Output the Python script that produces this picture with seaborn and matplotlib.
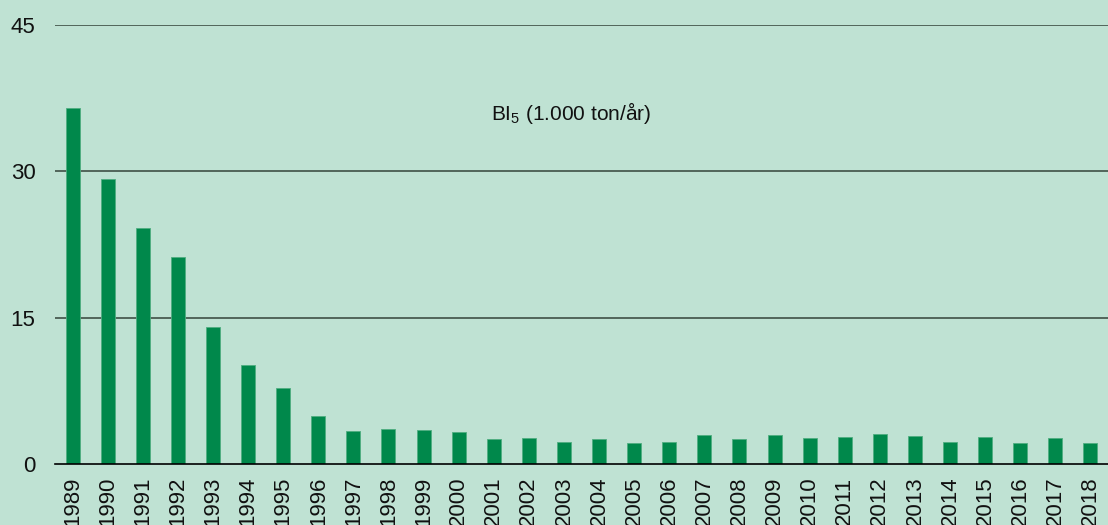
import numpy as np
import pandas as pd
import matplotlib
matplotlib.use('Agg')
import matplotlib.pyplot as plt
import seaborn as sns

# Data
years = [str(y) for y in range(1989, 2019)]
bi5 = [36.5, 29.2, 24.2, 21.2, 14.0, 10.1, 7.8, 4.95, 3.4, 3.55,
       3.5, 3.3, 2.55, 2.65, 2.3, 2.55, 2.2, 2.3, 2.95, 2.55,
       2.95, 2.65, 2.75, 3.05, 2.9, 2.3, 2.75, 2.15, 2.65, 2.2]
yticks = [0, 15, 30, 45]

bg = '#bfe2d3'
bar_color = '#00884b'

sns.set_style('white')
plt.rcParams['font.family'] = ['Liberation Sans', 'DejaVu Sans']
plt.rcParams['mathtext.fontset'] = 'custom'
plt.rcParams['mathtext.rm'] = 'Liberation Sans'
plt.rcParams['mathtext.it'] = 'Liberation Sans'

df = pd.DataFrame({'aar': years, 'bi5': bi5})

fig = plt.figure(figsize=(11.08, 5.25), dpi=100, facecolor=bg)
ax = fig.add_axes([55 / 1108, 61 / 525, 1 - 55 / 1108, 439 / 525])
ax.set_facecolor(bg)

sns.barplot(data=df, x='aar', y='bi5', color=bar_color, width=0.4,
            saturation=1, edgecolor='#4fae80', linewidth=0.6, ax=ax, zorder=3)

ax.set_xlim(-0.5, len(years) - 0.5)
ax.set_ylim(0, 45)
ax.set_yticks(yticks)
for t in yticks[1:]:
    ax.axhline(t, color='#34443a', lw=1.1, zorder=1)

for s in ['top', 'right', 'left']:
    ax.spines[s].set_visible(False)
ax.spines['bottom'].set_color('black')
ax.spines['bottom'].set_linewidth(1.2)
ax.spines['bottom'].set_zorder(4)

ax.set_xlabel('')
ax.set_ylabel('')
ax.tick_params(axis='y', length=0, labelsize=16, pad=14, labelcolor='#111111')
ax.tick_params(axis='x', which='major', length=0, labelsize=16, rotation=90,
               pad=9, labelcolor='#111111')
ax.set_xticks(np.arange(-0.5, len(years), 1), minor=True)
ax.tick_params(axis='x', which='minor', length=6, width=1.2, color='#333333')

ax.text(0.49, 0.8, r'BI$_5$ (1.000 ton/år)', transform=ax.transAxes,
        ha='center', va='center', fontsize=15, color='#111111')

fig.savefig('out.png', dpi=100, facecolor=bg)
